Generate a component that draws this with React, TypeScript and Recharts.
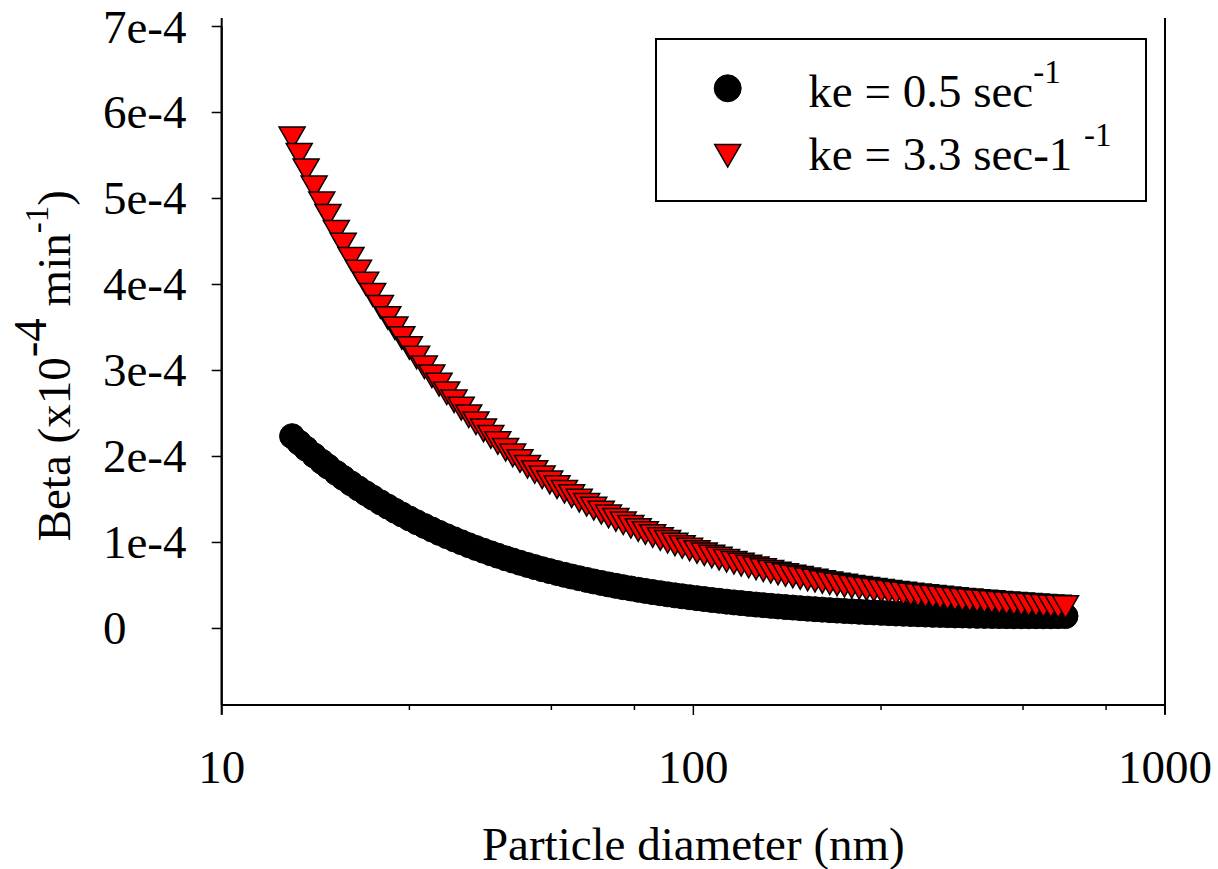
import React from "react";
import { ScatterChart, Scatter, XAxis, YAxis, ReferenceLine } from "recharts";

const FONT = '"Liberation Serif", "Times New Roman", serif';

// particle diameter (nm)
const diameters = [
  14.1, 14.6, 15.1, 15.7, 16.3, 16.8, 17.5, 18.1, 18.8, 19.5,
  20.2, 20.9, 21.7, 22.5, 23.3, 24.1, 25.0, 25.9, 26.9, 27.9,
  28.9, 30.0, 31.1, 32.2, 33.4, 34.6, 35.9, 37.2, 38.5, 40.0,
  41.4, 42.9, 44.5, 46.1, 47.8, 49.6, 51.4, 53.3, 55.2, 57.3,
  59.4, 61.5, 63.8, 66.1, 68.5, 71.0, 73.7, 76.4, 79.1, 82.0,
  85.1, 88.2, 91.4, 94.7, 98.2, 101.8, 105.5, 109.4, 113.4, 117.6,
  121.9, 126.3, 131.0, 135.8, 140.7, 145.9, 151.2, 156.8, 162.5, 168.5,
  174.7, 181.1, 187.7, 194.6, 201.7, 209.1, 216.7, 224.7, 232.9, 241.4,
  250.3, 259.5, 269.0, 278.8, 289.0, 299.6, 310.6, 322.0, 333.8, 346.0,
  358.7, 371.8, 385.4, 399.5, 414.2, 429.4, 445.1, 461.4, 478.3, 495.8,
  514.0, 532.8, 552.3, 572.5, 593.5, 615.3,
];

// Beta in units of 1e-4 min^-1, ke = 0.5 sec^-1
const betaKe05 = [
  2.236, 2.16, 2.09, 2.012, 1.939, 1.883, 1.809, 1.751, 1.687, 1.628,
  1.573, 1.522, 1.467, 1.417, 1.369, 1.325, 1.279, 1.236, 1.192, 1.151,
  1.112, 1.073, 1.037, 1.003, 0.968, 0.936, 0.904, 0.874, 0.846, 0.816,
  0.79, 0.764, 0.738, 0.714, 0.69, 0.667, 0.645, 0.624, 0.604, 0.584,
  0.565, 0.547, 0.529, 0.512, 0.496, 0.48, 0.465, 0.45, 0.437, 0.423,
  0.41, 0.397, 0.385, 0.374, 0.363, 0.352, 0.342, 0.331, 0.322, 0.312,
  0.303, 0.295, 0.286, 0.278, 0.271, 0.263, 0.256, 0.249, 0.243, 0.236,
  0.23, 0.224, 0.219, 0.213, 0.208, 0.203, 0.199, 0.194, 0.19, 0.186,
  0.182, 0.178, 0.174, 0.171, 0.168, 0.165, 0.162, 0.159, 0.157, 0.155,
  0.152, 0.151, 0.149, 0.147, 0.146, 0.145, 0.144, 0.143, 0.142, 0.142,
  0.142, 0.142, 0.142, 0.142, 0.143, 0.144,
];

// Beta in units of 1e-4 min^-1, ke = 3.3 sec^-1
const betaKe33 = [
  5.699, 5.507, 5.328, 5.129, 4.944, 4.8, 4.612, 4.463, 4.3, 4.15,
  4.01, 3.879, 3.74, 3.611, 3.491, 3.378, 3.261, 3.151, 3.038, 2.933,
  2.835, 2.735, 2.643, 2.556, 2.468, 2.386, 2.304, 2.228, 2.156, 2.079,
  2.013, 1.947, 1.881, 1.819, 1.759, 1.699, 1.644, 1.589, 1.539, 1.487,
  1.438, 1.393, 1.347, 1.304, 1.263, 1.223, 1.182, 1.145, 1.11, 1.075,
  1.04, 1.008, 0.977, 0.947, 0.918, 0.89, 0.863, 0.837, 0.812, 0.787,
  0.764, 0.742, 0.72, 0.699, 0.679, 0.659, 0.64, 0.622, 0.605, 0.588,
  0.571, 0.556, 0.541, 0.526, 0.512, 0.498, 0.485, 0.473, 0.46, 0.449,
  0.437, 0.426, 0.415, 0.405, 0.395, 0.386, 0.376, 0.367, 0.359, 0.35,
  0.342, 0.334, 0.327, 0.32, 0.313, 0.306, 0.299, 0.293, 0.287, 0.281,
  0.275, 0.27, 0.264, 0.259, 0.254, 0.25,
];

const xTicks = [10, 25, 50, 75, 100, 250, 500, 750, 1000];
const xMajorTicks = [10, 100, 1000];
const yTicks = [0, 1, 2, 3, 4, 5, 6, 7];

const dataKe05 = diameters.map((d, i) => ({ d, beta: betaKe05[i] }));
const dataKe33 = diameters.map((d, i) => ({ d, beta: betaKe33[i] }));

function BlackDot(props: any) {
  const { cx, cy } = props;
  return <circle cx={cx} cy={cy} r={12.5} fill="#000" stroke="#000" strokeWidth={1} />;
}

function RedTriangle(props: any) {
  const { cx, cy } = props;
  const w = 13;
  const h = 11.3;
  return (
    <path
      d={`M${cx - w},${cy - h}L${cx + w},${cy - h}L${cx},${cy + h}Z`}
      fill="#ff0000"
      stroke="#000"
      strokeWidth={1.5}
    />
  );
}

function XTick(props: any) {
  const { x, y, payload } = props;
  const major = xMajorTicks.includes(payload.value);
  return (
    <g>
      <line x1={x} x2={x} y1={y} y2={y + (major ? 10 : 5)} stroke="#000" strokeWidth={1.5} />
      {major && (
        <text x={x} y={y + 78} textAnchor="middle" fontSize={47} fontFamily={FONT} fill="#000">
          {payload.value}
        </text>
      )}
    </g>
  );
}

function YTick(props: any) {
  const { x, y, payload } = props;
  const label = payload.value === 0 ? "0" : `${payload.value}e-4`;
  return (
    <text x={x - 108.7} y={y + 16} fontSize={47} fontFamily={FONT} fill="#000">
      {label}
    </text>
  );
}

function XTitle(props: any) {
  const { viewBox } = props;
  return (
    <text
      x={viewBox.x + viewBox.width / 2}
      y={viewBox.y + 155}
      textAnchor="middle"
      fontSize={47}
      fontFamily={FONT}
      fill="#000"
    >
      Particle diameter (nm)
    </text>
  );
}

function YTitle(props: any) {
  const { viewBox } = props;
  const cx = viewBox.x + 70;
  const cy = viewBox.y + viewBox.height / 2;
  return (
    <text
      x={cx}
      y={cy}
      transform={`rotate(-90 ${cx} ${cy})`}
      textAnchor="middle"
      fontSize={47}
      fontFamily={FONT}
      fill="#000"
    >
      Beta (x10
      <tspan dy={-24}>-4</tspan>
      <tspan dy={24}>{" min"}</tspan>
      <tspan dy={-22} fontSize={33}>-1</tspan>
      <tspan dy={22}>)</tspan>
    </text>
  );
}

function LegendBox() {
  return (
    <div style={{ position: "absolute", left: 655, top: 38 }}>
      <svg width={494} height={166}>
        <rect x={1} y={1} width={490} height={162} fill="#fff" stroke="#000" strokeWidth={2} />
        <circle cx={72.7} cy={50.3} r={13.5} fill="#000" stroke="#000" />
        <path d="M59.7,106.4L85.7,106.4L72.7,129Z" fill="#ff0000" stroke="#000" strokeWidth={1.5} />
        <text x={153.3} y={69.3} fontSize={47} fontFamily={FONT} fill="#000">
          {"ke = 0.5 sec"}
          <tspan dy={-24} fontSize={33}>-1</tspan>
        </text>
        <text x={153.3} y={132} fontSize={47} fontFamily={FONT} fill="#000">
          {"ke = 3.3 sec-1 "}
          <tspan dy={-24} fontSize={33}>-1</tspan>
        </text>
      </svg>
    </div>
  );
}

export default function App() {
  return (
    <div style={{ position: "absolute", left: 0, top: 0, width: 1218, height: 869, background: "#fff" }}>
      <ScatterChart width={1218} height={869} margin={{ top: 26.5, right: 53, bottom: 0, left: 0 }}>
        <XAxis
          dataKey="d"
          type="number"
          scale="log"
          domain={[10, 1000]}
          ticks={xTicks}
          interval={0}
          allowDataOverflow
          height={164}
          tickSize={0}
          tickMargin={0}
          tickLine={false}
          tick={<XTick />}
          axisLine={{ stroke: "#000", strokeWidth: 2 }}
          label={<XTitle />}
        />
        <XAxis
          xAxisId="top"
          orientation="top"
          type="number"
          scale="log"
          domain={[10, 1000]}
          height={0}
          tick={false}
          tickLine={false}
          axisLine={{ stroke: "#000", strokeWidth: 2 }}
        />
        <YAxis
          dataKey="beta"
          type="number"
          domain={[-0.89, 7]}
          ticks={yTicks}
          interval={0}
          allowDataOverflow
          width={221.7}
          tickSize={10}
          tickMargin={0}
          tickLine={{ stroke: "#000", strokeWidth: 1.5 }}
          tick={<YTick />}
          axisLine={{ stroke: "#000", strokeWidth: 2 }}
          label={<YTitle />}
        />
        <YAxis
          yAxisId="right"
          orientation="right"
          type="number"
          domain={[0, 1]}
          width={0}
          tick={false}
          tickLine={false}
          axisLine={{ stroke: "#000", strokeWidth: 2 }}
        />
        <ReferenceLine
          segment={[{ x: 10, y: -1 }, { x: 10, y: 7.1 }]}
          ifOverflow="visible"
          stroke="#000"
          strokeWidth={2}
        />
        <ReferenceLine
          segment={[{ x: 1000, y: -1 }, { x: 1000, y: 7.1 }]}
          ifOverflow="visible"
          stroke="#000"
          strokeWidth={2}
        />
        <Scatter data={dataKe05} shape={<BlackDot />} isAnimationActive={false} />
        <Scatter data={dataKe33} shape={<RedTriangle />} isAnimationActive={false} />
      </ScatterChart>
      <LegendBox />
    </div>
  );
}
